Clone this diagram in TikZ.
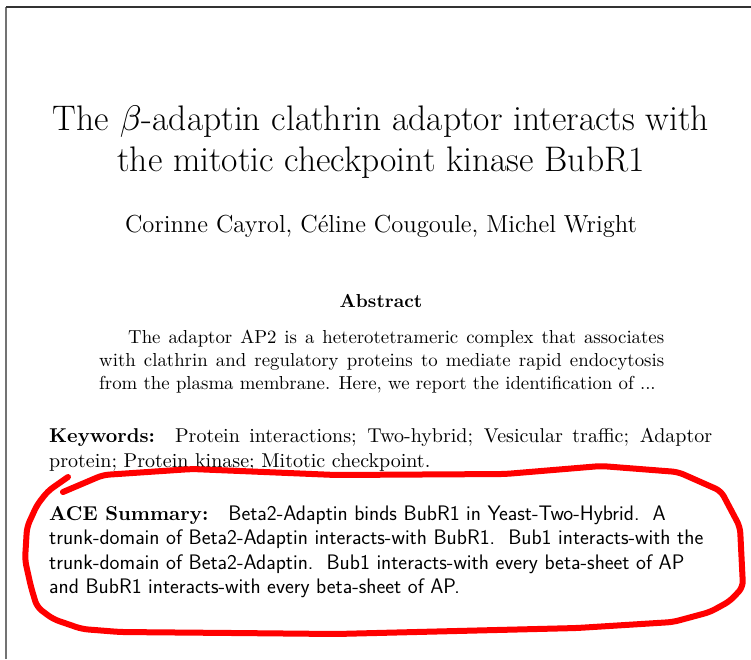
\documentclass[tikz,border=0pt]{standalone}
\DeclareFontShape{OML}{cmm}{m}{it}{<-> cmmi10}{}
\DeclareFontFamily{TU}{lmrten}{}
\DeclareFontShape{TU}{lmrten}{m}{n}{<-> \UnicodeFontFile{lmroman10-regular}{\UnicodeFontTeXLigatures}}{}
\DeclareFontShape{TU}{lmrten}{bx}{n}{<-> \UnicodeFontFile{lmroman10-bold}{\UnicodeFontTeXLigatures}}{}
\DeclareFontShape{TU}{lmrten}{b}{n}{<-> ssub * lmrten/bx/n}{}
\DeclareFontFamily{TU}{lmrtwelve}{}
\DeclareFontShape{TU}{lmrtwelve}{m}{n}{<-> \UnicodeFontFile{lmroman12-regular}{\UnicodeFontTeXLigatures}}{}
\begin{document}
\begin{tikzpicture}[x=1pt,y=-1pt,
  txt/.style={inner sep=0pt, anchor=base west},
  ctr/.style={inner sep=0pt, anchor=base},
  titlef/.style={font=\fontsize{35.5}{41}\selectfont},
  authf/.style={font=\fontfamily{lmrtwelve}\fontsize{24.6}{28}\selectfont},
  absf/.style={font=\fontfamily{lmrten}\fontsize{18.8}{23}\selectfont},
  normf/.style={font=\fontfamily{lmrten}\fontsize{20}{25.5}\selectfont},
  acef/.style={font=\fontsize{21}{25.5}\selectfont\sffamily},
  topborder/.style={draw=black!80, line width=1.8pt},
  leftborder/.style={draw=black!55, line width=1.5pt},
  redloop/.style={draw=red, line width=6pt, line cap=round, line join=round, rounded corners=6pt}]
\useasboundingbox (0,0) rectangle (751,659);
\fill[white] (0,0) rectangle (751,659);
% page border
\coordinate (tl) at (6,7);
\coordinate (tr) at (751,7);
\coordinate (bl) at (6,659);
\draw[leftborder] (bl) -- (tl);
\draw[topborder] (tl) -- (tr);
% title
\node[ctr,titlef] (t1) at (381,130) {The $\beta$-adaptin clathrin adaptor interacts with};
\node[ctr,titlef] (t2) at (381,171) {the mitotic checkpoint kinase BubR1};
% authors
\node[ctr,authf] (au) at (381,232) {Corinne Cayrol, C\'eline Cougoule, Michel Wright};
% abstract
\node[ctr,absf] (abh) at (381,307) {\bfseries Abstract};
\node[txt,absf] (ab1) at (128,343) {\makebox[536pt][s]{The adaptor AP2 is a heterotetrameric complex that associates}};
\node[txt,absf] (ab2) at (99,366) {\makebox[565pt][s]{with clathrin and regulatory proteins to mediate rapid endocytosis}};
\node[txt,absf] (ab3) at (99,389) {from the plasma membrane. Here, we report the identification of ...};
% keywords
\node[txt,normf] (kw1) at (49,442) {\makebox[663pt][s]{\textbf{Keywords:}\quad Protein interactions; Two-hybrid; Vesicular traffic; Adaptor}};
\node[txt,normf] (kw2) at (49,467) {protein; Protein kinase; Mitotic checkpoint.};
% ACE summary
\node[txt,normf] (ac1) at (49,520) {\textbf{ACE Summary:}\quad{\fontsize{21}{25.5}\sffamily Beta2-Adaptin binds BubR1 in Yeast-Two-Hybrid.\ \ A}};
\node[txt,acef] (ac2) at (49,544.5) {trunk-domain of Beta2-Adaptin interacts-with BubR1.\ \ Bub1 interacts-with the};
\node[txt,acef] (ac3) at (49,569) {trunk-domain of Beta2-Adaptin.\ \ Bub1 interacts-with every beta-sheet of AP};
\node[txt,acef] (ac4) at (49,593.5) {and BubR1 interacts-with every beta-sheet of AP.};
% red loop
\draw[redloop] (63,492) -- (103,475) -- (192,469) -- (336,475) -- (505,474) -- (601,466)
  -- (678,472) -- (721,491) -- (740,527) -- (743,587) -- (730,601) -- (710,612)
  -- (673,622) -- (577,628) -- (336,634) -- (233,633) -- (120,632) -- (82,629)
  -- (53,619) -- (37,607) -- (31,587) -- (25,560) -- (27,527) -- (37,505)
  -- (48,491) -- (68,477);
\end{tikzpicture}
\end{document}
